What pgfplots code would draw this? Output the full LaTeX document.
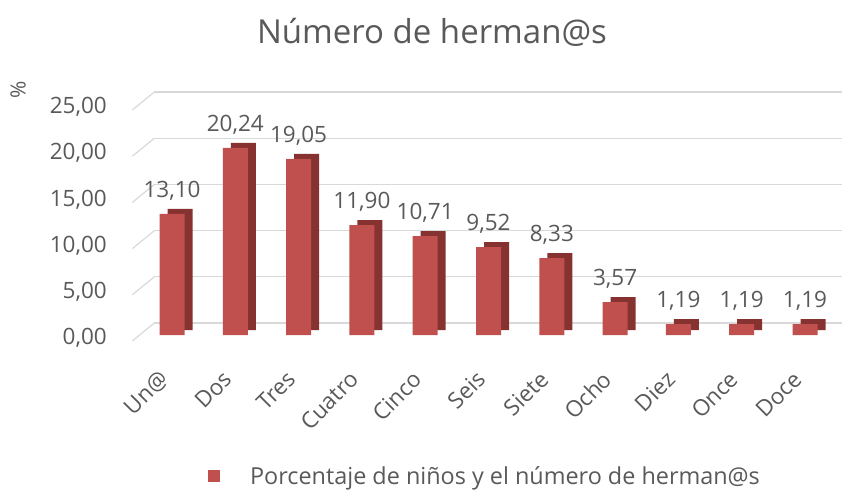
\documentclass[border=0pt]{standalone}
\usepackage{pgfplots}
\pgfplotsset{compat=1.18}
\usepackage{fontspec}
\setmainfont{Open Sans}
\definecolor{barfront}{HTML}{C0504D}
\definecolor{barside}{HTML}{863230}
\definecolor{txt}{HTML}{595959}
\definecolor{gridc}{HTML}{D9D9D9}
\begin{document}
\begin{tikzpicture}
\useasboundingbox (0,0) rectangle (842pt,491pt);
\node[txt, font=\fontsize{33}{38}\selectfont] at (432pt,459pt) {Número de herman@s};
\node[txt, rotate=90, font=\fontsize{21}{25}\selectfont] at (18pt,401pt) {\%};
\begin{axis}[
  at={(140.35pt,156pt)}, anchor=south west,
  scale only axis, width=696.3pt, height=231pt,
  xmin=-0.5, xmax=10.5, ymin=0, ymax=25,
  clip=false,
  ytick={0,5,...,25},
  xtick={0,...,10},
  xticklabels={Un@,Dos,Tres,Cuatro,Cinco,Seis,Siete,Ocho,Diez,Once,Doce},
  axis line style={draw=none},
  major tick length=0pt,
  ymajorgrids, major grid style={gridc, line width=1.2pt, xshift=14pt, yshift=12pt},
  /pgf/number format/.cd, fixed, fixed zerofill, precision=2, use comma, assume math mode=true,
  /pgfplots/.cd,
  tick label style={txt, font=\fontsize{22.5}{26}\selectfont},
  yticklabel style={xshift=-30pt, yshift=-3pt},
  xticklabel style={xshift=-5pt, yshift=-38pt, rotate=45, anchor=east},
  ybar, bar width=25pt,
  legend style={at={(0.495,-0.61)}, anchor=center, draw=none, fill=none,
    font=\fontsize{23.4}{27}\selectfont, text=txt},
  legend image code/.code={\fill[barfront] (-6pt,-6pt) rectangle (6pt,6pt);},
]
\pgfplotsinvokeforeach{0,5,10,15,20,25}{
  \draw[gridc, line width=1.2pt] ([xshift=-8pt,yshift=-6pt]axis cs:-0.5,#1) -- ([xshift=14pt,yshift=12pt]axis cs:-0.5,#1);
}
\addplot[bar shift=0pt, fill=barside, draw=none, xshift=8pt, yshift=5pt, forget plot]
  coordinates {(0,13.10) (1,20.24) (2,19.05) (3,11.90) (4,10.71) (5,9.52) (6,8.33) (7,3.57) (8,1.19) (9,1.19) (10,1.19)};
\addplot[bar shift=0pt, fill=barfront, draw=none,
  nodes near coords, every node near coord/.append style={txt, font=\fontsize{22.5}{26}\selectfont, yshift=10pt}]
  coordinates {(0,13.10) (1,20.24) (2,19.05) (3,11.90) (4,10.71) (5,9.52) (6,8.33) (7,3.57) (8,1.19) (9,1.19) (10,1.19)};
\addlegendentry{\hspace{28pt}Porcentaje de niños y el número de herman@s}
\end{axis}
\end{tikzpicture}
\end{document}
